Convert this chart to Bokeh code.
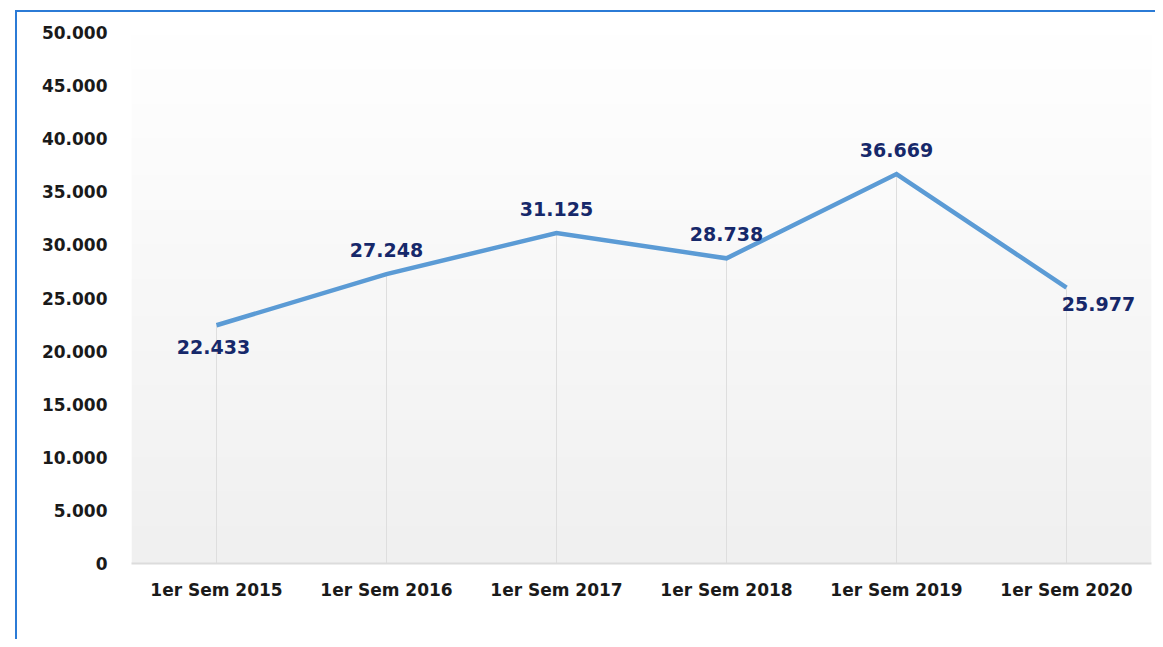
import numpy as np
from bokeh.plotting import figure
from bokeh.models import (ColumnDataSource, Range1d, FactorRange, FixedTicker,
                          CustomJSTickFormatter, LabelSet)
from bokeh.core.properties import value
from bokeh.embed import file_html
from bokeh.resources import INLINE

categories = ["1er Sem 2015", "1er Sem 2016", "1er Sem 2017",
              "1er Sem 2018", "1er Sem 2019", "1er Sem 2020"]
values = [22433, 27248, 31125, 28738, 36669, 25977]
value_labels = ["22.433", "27.248", "31.125", "28.738", "36.669", "25.977"]
y_ticks = [0, 5000, 10000, 15000, 20000, 25000, 30000, 35000, 40000, 45000, 50000]

# label placement (style), screen pixels, positive y = up
label_dx = [-3, 0, 0, 0, 0, 32]
label_dy = [-22, 24, 24, 24, 24, -16]

FONT = "DejaVu Sans"
Y_MAX = y_ticks[-1]
BLUE = "#2b7bd6"

p = figure(width=1155, height=639, x_range=FactorRange(*categories, range_padding=0),
           y_range=Range1d(0, Y_MAX), output_backend="svg", toolbar_location=None,
           min_border_left=131, min_border_right=4, min_border_top=32,
           min_border_bottom=76)
p.styles = {"background-image": f"linear-gradient({BLUE},{BLUE}), linear-gradient({BLUE},{BLUE})",
            "background-repeat": "no-repeat",
            "background-position": "15px 10px, 15px 10px",
            "background-size": "2px 100%, 100% 2px"}
p.outline_line_color = None
p.background_fill_color = "white"
p.border_fill_color = None

# gradient background over the whole frame
n = 200
shades = np.linspace(240, 255, n).astype(np.uint32)
img = np.zeros((n, 1), dtype=np.uint32)
img[:, 0] = (255 << 24) | (shades << 16) | (shades << 8) | shades
bg = ColumnDataSource(dict(image=[img], x=[[categories[0], -0.5]], y=[0],
                           dw=[len(categories)], dh=[Y_MAX]))
p.image_rgba(image="image", x="x", y="y", dw="dw", dh="dh", source=bg)

src = ColumnDataSource(dict(x=categories, y=values, zero=[0] * len(values),
                            lab=value_labels, dx=label_dx, dy=label_dy))

p.segment(x0="x", y0="zero", x1="x", y1="y", source=src,
          line_color="#dedede", line_width=1)
p.line(x="x", y="y", source=src, line_color="#5b9bd5", line_width=4.5,
       line_join="miter")

labels = LabelSet(x="x", y="y", text="lab", source=src, x_offset="dx", y_offset="dy",
                  text_align="center", text_baseline="middle",
                  text_font=value(FONT), text_font_style="bold", text_font_size="19px",
                  text_color="#16286a")
p.add_layout(labels)

p.xgrid.grid_line_color = None
p.ygrid.grid_line_color = None

p.xaxis.axis_line_color = "#dcdcdc"
p.xaxis.axis_line_width = 2
p.xaxis.major_tick_line_color = None
p.xaxis.minor_tick_line_color = None
p.xaxis.major_label_standoff = 10
p.xaxis.major_label_text_font = FONT
p.xaxis.major_label_text_font_style = "bold"
p.xaxis.major_label_text_font_size = "17px"
p.xaxis.major_label_text_color = "#1a1a1a"

p.yaxis.axis_line_color = None
p.yaxis.major_tick_line_color = None
p.yaxis.minor_tick_line_color = None
p.yaxis.ticker = FixedTicker(ticks=y_ticks)
p.yaxis.formatter = CustomJSTickFormatter(
    code="return Math.round(tick).toString().replace(/\\B(?=(\\d{3})+(?!\\d))/g, '.');")
p.yaxis.major_label_standoff = 18
p.yaxis.major_label_text_font = FONT
p.yaxis.major_label_text_font_style = "bold"
p.yaxis.major_label_text_font_size = "17px"
p.yaxis.major_label_text_color = "#1a1a1a"

open("out.html", "w").write(file_html(p, INLINE))
